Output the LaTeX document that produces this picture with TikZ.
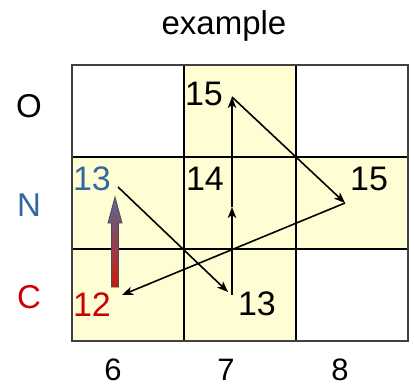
\documentclass[tikz,border=0pt]{standalone}
\usepackage{fontspec}
\setmainfont{Liberation Sans}
\usepackage{tikz}
\usetikzlibrary{positioning,arrows.meta}
\definecolor{cellyel}{RGB}{255,253,212}
\definecolor{nblue}{RGB}{52,104,158}
\definecolor{cred}{RGB}{204,0,0}
\definecolor{shblue}{RGB}{90,104,150}
\definecolor{shred}{RGB}{205,25,15}

\begin{document}
\begin{tikzpicture}[x=1pt,y=-1pt,>={Stealth[length=11pt,width=8.5pt,inset=3pt]}]
\tikzstyle{lbl}=[inner sep=0pt,font=\fontsize{33}{40}\selectfont]
\tikzstyle{num}=[inner sep=0pt,font=\fontsize{34}{41}\selectfont]
\tikzstyle{axis}=[inner sep=0pt,font=\fontsize{31}{37}\selectfont]
\tikzstyle{path}=[black,line width=1.6pt]
\useasboundingbox (0,0) rectangle (414,389);

% yellow cells
\fill[cellyel] (184,65) rectangle (296,157);
\fill[cellyel] (72,157) rectangle (408,249);
\fill[cellyel] (72,249) rectangle (296,341);

% grid
\draw[line width=1.6pt] (184,65) -- (184,341);
\draw[line width=1.6pt] (296,65) -- (296,341);
\draw[line width=1.6pt] (72,157) -- (408,157);
\draw[line width=1.6pt] (72,249) -- (408,249);
\draw[black!75,line width=1.8pt] (72,65) rectangle (408,341);

% title and axes
\node[lbl] (title) at (224,26) {example};
\node[lbl] (rowO) at (29,106) {O};
\node[lbl,text=nblue] (rowN) at (29,205) {N};
\node[lbl,text=cred] (rowC) at (29,297) {C};
\node[axis] (col6) at (113,370) {6};
\node[axis] (col7) at (226,370) {7};
\node[axis] (col8) at (340,370) {8};

% cell values
\node[num] (o7) at (204,94) {15};
\node[num,text=nblue] (n6) at (92,179) {13};
\node[num] (n7) at (205,179) {14};
\node[num] (n8) at (369,179) {15};
\node[num,text=cred] (c6) at (92,305) {12};
\node[num] (c7) at (257,304) {13};

% path points
\coordinate (pn6) at (118,187);
\coordinate (pc7a) at (228,292);
\coordinate (pc7) at (232,295);
\coordinate (pn7) at (232,207);
\coordinate (po7) at (232,97);
\coordinate (pn8) at (345,203);
\coordinate (pc6) at (122,295);

\draw[path,->] (pn6) -- (pc7a);
\draw[path,->] (pc7) -- (pn7);
\draw[path,->] (pn7) -- (po7);
\draw[path,->] (po7) -- (pn8);
\draw[path,->] (pn8) -- (pc6);

% shaded arrow
\shade[top color=shblue,bottom color=shred,draw=black!70,line width=0.8pt]
  (111.5,287) -- (111.5,223) -- (108,223) -- (115,197) -- (122,223)
  -- (118.5,223) -- (118.5,287) -- cycle;
\end{tikzpicture}
\end{document}
